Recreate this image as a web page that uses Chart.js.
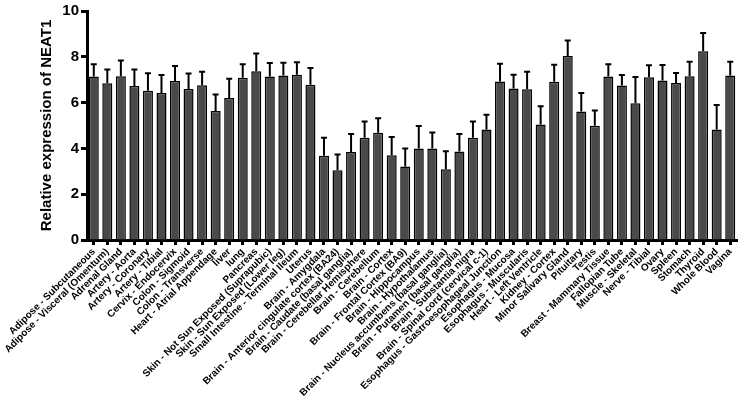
<!DOCTYPE html>
<html>
<head>
<meta charset="utf-8">
<script src="https://cdn.jsdelivr.net/npm/chart.js@4/dist/chart.umd.min.js"></script>
<style>
  html, body { margin: 0; padding: 0; background: #fff; }
  #wrap { width: 740px; height: 403px; position: relative; }
</style>
</head>
<body>
<div id="wrap"><canvas id="neatChart"></canvas></div>
<script>
// tissues, in the order shown on the x axis
var tissues = [
  'Adipose - Subcutaneous', 'Adipose - Visceral (Omentum)', 'Adrenal Gland',
  'Artery - Aorta', 'Artery - Coronary', 'Artery - Tibial', 'Cervix - Endocervix',
  'Colon - Sigmoid', 'Colon - Transverse', 'Heart - Atrial Appendage', 'liver', 'lung',
  'Pancreas', 'Skin - Not Sun Exposed (Suprapubic)', 'Skin - Sun Exposed (Lower leg)',
  'Small Intestine - Terminal Ileum', 'Uterus', 'Brain - Amygdala',
  'Brain - Anterior cingulate cortex (BA24)', 'Brain - Caudate (basal ganglia)',
  'Brain - Cerebellar Hemisphere', 'Brain - Cerebellum', 'Brain - Cortex',
  'Brain - Frontal Cortex (BA9)', 'Brain - Hippocampus', 'Brain - Hypothalamus',
  'Brain - Nucleus accumbens (basal ganglia)', 'Brain - Putamen (basal ganglia)',
  'Brain - Substantia nigra', 'Brain - Spinal cord (cervical c-1)',
  'Esophagus - Gastroesophageal Junction', 'Esophagus - Mucosa', 'Esophagus - Muscularis',
  'Heart - Left Ventricle', 'Kidney - Cortex', 'Minor Salivary Gland', 'Pituitary', 'Testis',
  'Breast - Mammary Tissue', 'Fallopian Tube', 'Muscle - Skeletal', 'Nerve - Tibial',
  'Ovary', 'Spleen', 'Stomach', 'Thyroid', 'Whole Blood', 'Vagina'
];

// mean relative expression
var meanExpr = [
  7.14, 6.85, 7.15, 6.73, 6.52, 6.42, 6.94, 6.59, 6.76, 5.63, 6.20, 7.08,
  7.37, 7.14, 7.18, 7.22, 6.78, 3.68, 3.05, 3.84, 4.46, 4.68, 3.70, 3.21,
  4.00, 4.00, 3.09, 3.86, 4.47, 4.82, 6.92, 6.62, 6.58, 5.04, 6.91, 8.04,
  5.61, 4.99, 7.14, 6.75, 5.97, 7.11, 6.96, 6.86, 7.15, 8.24, 4.83, 7.18
];

// upper error (SD)
var errExpr = [
  0.53, 0.60, 0.69, 0.72, 0.76, 0.79, 0.66, 0.68, 0.59, 0.72, 0.84, 0.59,
  0.77, 0.59, 0.56, 0.54, 0.73, 0.79, 0.68, 0.79, 0.71, 0.64, 0.80, 0.79,
  0.98, 0.69, 0.79, 0.77, 0.71, 0.65, 0.78, 0.60, 0.77, 0.80, 0.74, 0.67,
  0.81, 0.66, 0.54, 0.46, 1.15, 0.52, 0.68, 0.43, 0.63, 0.80, 1.07, 0.60
];

var yTicks = [0, 2, 4, 6, 8, 10];

// draws the upper error bars on top of the bars
var errorBars = {
  id: 'errorBars',
  afterDatasetsDraw: function (chart) {
    var ctx = chart.ctx;
    var yScale = chart.scales.y;
    var meta = chart.getDatasetMeta(0);
    ctx.save();
    ctx.strokeStyle = '#000';
    ctx.lineWidth = 2;
    meta.data.forEach(function (bar, i) {
      var top = yScale.getPixelForValue(meanExpr[i] + errExpr[i]);
      ctx.beginPath();
      ctx.moveTo(bar.x, bar.y);
      ctx.lineTo(bar.x, top);
      ctx.moveTo(bar.x - 3, top);
      ctx.lineTo(bar.x + 3, top);
      ctx.stroke();
    });
    ctx.restore();
  }
};

var ctx = document.getElementById('neatChart').getContext('2d');
var neatChart = new Chart(ctx, {
  type: 'bar',
  data: {
    labels: tissues,
    datasets: [{
      data: meanExpr,
      backgroundColor: '#4a4a4a',
      borderColor: '#000',
      borderWidth: 1.5,
      barPercentage: 0.74,
      categoryPercentage: 1.0
    }]
  },
  options: {
    responsive: true,
    maintainAspectRatio: false,
    animation: false,
    layout: { padding: { top: -3, right: 3, left: 0, bottom: 0 } },
    plugins: {
      legend: { display: false },
      tooltip: { enabled: false }
    },
    scales: {
      x: {
        grid: {
          offset: false,
          drawOnChartArea: false,
          tickLength: 5,
          tickWidth: 3,
          tickColor: '#000'
        },
        border: { display: true, color: '#000', width: 3 },
        ticks: {
          autoSkip: false,
          maxRotation: 45,
          minRotation: 45,
          padding: 1,
          color: '#000',
          font: { family: 'Liberation Sans, Arial', size: 10, weight: 'bold' }
        },
        afterFit: function (scale) { scale.height = 163; }
      },
      y: {
        min: 0,
        max: 10,
        afterBuildTicks: function (scale) {
          scale.ticks = yTicks.map(function (v) { return { value: v }; });
        },
        grid: {
          drawOnChartArea: false,
          tickLength: 6,
          tickWidth: 3,
          tickColor: '#000'
        },
        border: { display: true, color: '#000', width: 3 },
        ticks: {
          padding: 2,
          color: '#000',
          font: { family: 'Liberation Sans, Arial', size: 15, weight: 'bold' }
        },
        title: {
          display: true,
          text: 'Relative expression of NEAT1',
          color: '#000',
          padding: { top: 38, bottom: 4 },
          font: { family: 'Liberation Sans, Arial', size: 15, weight: 'bold' }
        },
        afterFit: function (scale) { scale.width = 87; }
      }
    }
  },
  plugins: [errorBars]
});
</script>
</body>
</html>
